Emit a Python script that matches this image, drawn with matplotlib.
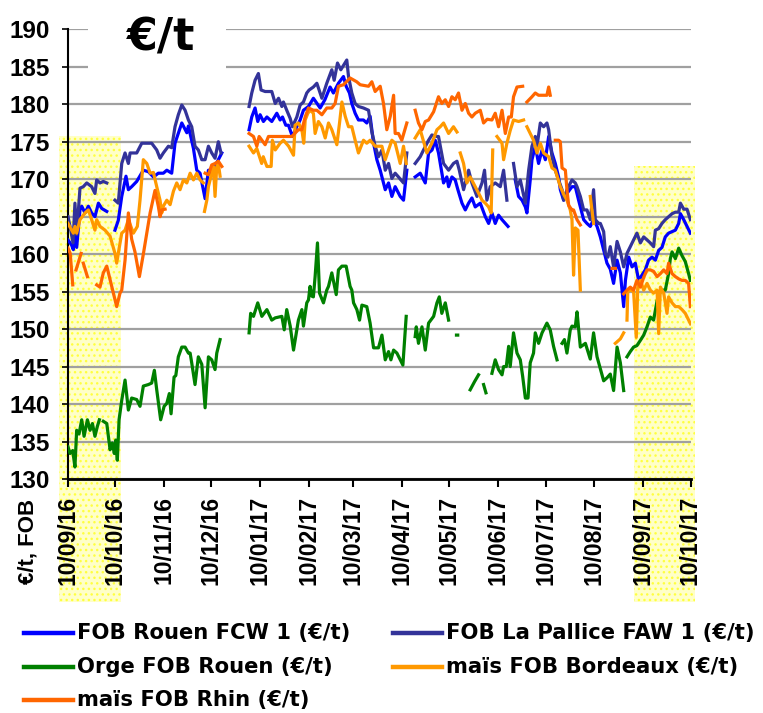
import numpy as np
import matplotlib
matplotlib.use("Agg")
import matplotlib.pyplot as plt
import matplotlib.dates as mdates
from matplotlib.patches import Rectangle
from matplotlib.lines import Line2D

plt.rcParams['font.family'] = ['Liberation Sans', 'DejaVu Sans']

N = None
START = "2016-09-10"   # day 0 of the day offsets below

# (day offset from START, €/t); None = gap in the series
rouen = [(0,161.9),(2.3,161.2),(3.4,160.6),(4.4,165.0),(5.5,160.9),(7.6,165.9),(8.7,166.4),(10.8,165.5),
         (12.9,166.4),(15.0,165.5),(17.1,165.0),(19.3,166.8),(21.4,166.1),(24.6,165.7),N,
         (29.8,163.2),(31.9,164.5),(34.1,167.7),(36.8,170.4),(38.3,168.6),(40.4,169.0),(43.6,169.7),
         (47.8,171.2),(51.0,171.0),(54.2,170.3),(57.3,170.8),(60.5,170.8),(62.7,171.2),(65.8,170.8),
         (67.9,174.8),(72.2,177.5),(75.4,176.2),(76.4,177.1),(79.6,174.1),(81.7,171.2),(83.8,170.8),
         (87.0,167.4),(89.1,171.2),(91.2,170.8),(93.3,171.7),(95.4,172.6),(97.6,173.5),N,
         (114.9,176.6),(116.6,178.3),(118.7,179.5),(120.4,177.7),(121.9,178.6),(124.0,177.7),(126.2,178.3),
         (129.3,177.7),(132.5,178.8),(134.6,177.9),(136.1,178.3),(138.2,177.2),(139.9,177.2),(142.4,175.7),
         (145.2,177.0),(147.3,177.9),(149.4,179.2),(152.6,179.7),(155.7,180.8),(160.0,179.5),(163.0,180.6),
         (166.3,182.3),(168.4,181.5),(171.6,182.8),(174.8,183.7),(176.5,182.4),(178.6,181.5),(180.1,180.1),
         (182.2,178.8),(184.3,177.9),(187.5,177.9),(189.6,177.5),(191.7,178.4),(193.9,174.8),(196.0,172.6),
         (198.1,171.2),(201.3,168.6),(203.4,169.5),(205.5,167.7),(207.6,169.0),(210.8,167.7),(212.9,167.2),
         (215.0,171.2),N,
         (220.3,170.3),(223.5,170.8),(226.7,169.5),(228.8,173.5),(231.0,173.9),(233.0,175.2),(235.1,173.5),
         (238.3,169.5),(240.4,170.3),(241.5,169.0),(243.6,170.3),(245.7,169.9),(247.4,168.6),(250.0,166.8),
         (252.1,165.9),(254.2,166.8),(256.3,167.5),(258.4,166.3),(261.6,166.8),(264.8,165.0),(266.9,164.1),
         (269.0,165.5),(271.1,164.1),(273.2,165.2),(275.4,164.6),(277.5,164.1),(279.2,163.7),N,
         (283.8,169.9),(285.9,167.7),(288.1,167.2),(290.2,166.3),(291.2,165.5),(293.3,169.9),(294.4,172.6),
         (296.5,174.4),(298.6,172.1),(300.8,173.9),(302.9,172.6),(305.0,175.7),(307.1,173.5),(309.2,172.1),
         (311.3,170.3),(312.4,168.6),(314.5,167.2),(316.6,168.1),(319.8,169.0),(321.9,169.0),(324.0,167.2),
         (327.2,164.6),(329.3,164.1),(331.4,163.7),(333.5,164.6),(335.7,163.7),(337.8,162.3),(342.0,158.8),
         (344.1,158.0),(346.2,156.1),(348.4,159.2),(350.5,157.5),(352.6,153.0),(353.7,156.5),(355.8,159.6),
         (357.9,158.3),(360.0,158.8),(362.1,156.5),(364.2,157.2),(366.3,157.9),(368.4,159.2),(370.6,159.6),
         (372.7,159.2),(374.8,160.5),(376.9,160.9),(379.0,162.3),(381.1,162.8),(383.3,163.0),(385.4,163.2),
         (387.5,164.1),(388.6,165.4),(390.7,164.6),(392.8,163.7),(394.9,162.8)]

pallice = [(0,165.0),(1.3,163.7),(3.2,161.5),(4.4,166.8),(5.5,162.6),(7.6,168.8),(9.7,169.0),(11.9,169.5),
           (15.0,169.0),(17.1,168.1),(18.2,169.9),(20.3,169.5),(22.4,169.7),(24.6,169.5),N,
           (29.8,167.2),(31.9,166.8),(34.1,172.1),(36.2,173.5),(38.3,172.1),(39.4,173.5),(43.6,173.5),
           (46.8,174.8),(53.1,174.8),(56.3,173.9),(58.4,172.8),(60.5,173.5),(63.7,174.4),(65.8,174.2),
           (67.9,177.0),(70.0,178.6),(72.2,179.9),(74.3,179.2),(76.4,177.9),(78.5,177.0),(80.6,174.4),
           (82.7,173.9),(84.9,172.6),(87.0,172.6),(89.1,174.4),(91.2,173.5),(93.3,172.8),(95.4,175.0),
           (97.1,173.5),N,
           (114.9,179.7),(116.6,181.5),(118.7,183.2),(120.8,184.1),(122.5,181.9),(125.1,181.7),(129.3,181.7),
           (131.5,180.1),(133.6,180.8),(135.7,179.7),(136.7,180.3),(138.8,179.2),(141.0,178.1),(142.4,177.0),
           (145.2,178.3),(147.3,179.9),(149.4,180.3),(151.5,181.5),(153.0,181.9),(155.7,182.3),(157.9,182.8),
           (161.1,180.8),(164.2,182.8),(167.4,184.6),(168.9,183.2),(171.0,185.5),(173.1,184.6),(176.9,185.9),
           (178.0,183.7),(180.1,181.5),(182.2,180.1),(184.3,179.7),(187.5,179.5),(190.7,179.2),(192.8,176.3),
           (194.9,174.4),(197.0,173.0),(199.2,173.9),(201.3,171.2),(203.4,172.1),(205.5,170.1),(207.6,170.8),
           (209.7,170.3),(212.9,169.5),(215.0,173.5),N,
           (220.3,172.1),(223.5,173.0),(225.6,173.9),(228.8,175.2),(230.9,175.9),(234.1,175.7),(235.1,175.7),
           (238.3,172.1),(241.5,171.2),(244.6,172.1),(246.8,172.4),(248.3,171.2),(251.0,168.6),(254.2,171.2),
           (256.3,169.5),(259.5,167.7),(262.7,169.5),(264.3,171.2),(265.8,167.2),(267.9,169.0),(271.1,169.5),
           (274.3,169.0),(276.4,171.2),(278.5,167.2),N,
           (282.7,172.1),(284.9,169.0),(287.0,169.9),(290.2,166.8),(292.3,171.2),(294.4,174.4),(296.5,175.7),
           (297.6,174.4),(299.7,177.5),(301.8,177.0),(303.9,177.5),(305.0,176.6),(307.1,173.0),(309.2,171.2),
           (311.3,169.9),(313.5,168.6),(314.5,167.2),(316.6,168.6),(319.8,169.9),(321.9,169.5),(323.0,169.0),
           (325.1,167.7),(327.2,165.9),(329.3,165.9),(331.4,164.6),(333.5,168.6),(334.6,164.6),(336.7,164.1),
           (337.8,164.1),(339.9,163.0),(341.0,160.1),(342.6,159.6),(344.1,161.0),(346.2,158.3),(348.4,161.7),
           (350.5,160.3),(352.6,158.3),(353.7,159.2),(354.7,160.1),(356.8,161.0),(358.9,161.9),(361.0,162.8),
           (363.2,161.5),(365.3,162.3),(367.4,161.9),(369.5,161.5),(371.6,161.0),(372.7,163.2),(374.8,163.4),
           (376.9,164.1),(379.0,164.6),(381.1,165.0),(383.3,165.4),(385.4,165.6),(387.5,165.6),(388.6,166.8),
           (390.7,166.0),(392.8,166.0),(394.9,164.6)]

orge = [(0,134.3),(1.3,133.4),(3.0,133.8),(4.4,131.6),(5.5,136.5),(7.0,136.0),(8.7,137.9),(10.2,135.7),
        (12.3,137.9),(14.0,136.5),(15.5,137.4),(17.1,135.7),(18.6,137.0),(19.9,137.9),N,
        (22.4,137.7),(24.6,137.4),(26.7,133.9),(28.1,134.8),(29.4,133.4),(30.3,135.2),(31.3,132.5),(32.4,137.9),
        (34.1,140.5),(36.2,143.2),(38.3,139.2),(40.4,140.8),(43.6,140.6),(45.7,139.7),(47.8,142.4),(51.0,142.6),
        (53.1,142.8),(54.8,144.5),(56.3,141.9),(58.8,137.9),(61.0,139.7),(62.7,140.1),(64.3,141.4),(65.4,138.7),
        (67.3,143.6),(68.4,143.8),(70.0,146.3),(72.2,147.6),(74.3,147.6),(76.4,146.8),(77.5,146.8),(78.5,145.5),
        (80.6,142.6),(82.7,146.3),(84.9,145.3),(87.0,139.5),(89.1,146.3),(91.2,145.9),(93.3,144.6),(94.4,146.8),
        (96.5,148.6),N,
        (114.9,149.5),(115.9,152.1),(117.7,151.7),(120.4,153.5),(123.0,151.7),(126.2,152.6),(129.3,151.2),
        (131.5,151.5),(135.7,151.7),(137.2,149.9),(138.8,152.6),(141.0,150.4),(143.1,147.2),(146.2,151.2),
        (148.4,152.6),(149.4,150.4),(151.5,153.5),(152.6,153.9),(153.6,155.7),(154.7,154.4),(155.7,154.3),
        (156.8,157.0),(158.3,161.5),(159.6,154.8),(162.1,153.5),(164.2,155.2),(165.3,155.7),(167.4,157.5),
        (170.2,154.6),(171.6,157.9),(173.8,158.4),(176.5,158.4),(179.0,155.7),(180.1,155.2),(181.2,153.5),
        (183.3,152.6),(185.0,151.2),(186.5,153.2),(189.6,153.0),(191.7,150.8),(193.9,147.5),(197.0,147.5),
        (199.2,149.2),(201.3,145.9),(203.4,147.0),(204.9,145.9),(206.6,147.2),(208.7,146.8),(212.5,145.2),
        (214.6,151.7),N,
        (220.3,149.0),(221.0,150.3),(222.4,148.1),(224.6,150.3),(226.7,147.2),(228.8,150.8),(232.0,151.7),
        (234.1,153.5),(235.6,154.3),(237.2,152.1),(239.4,153.5),(241.5,151.2),N,
        (246.5,149.2),(247.3,149.2),N,
        (255.2,141.9),(258.0,143.0),(260.5,143.9),N,
        (263.7,142.6),(265.2,141.5),N,
        (269.0,144.1),(271.1,145.9),(273.2,144.6),(275.4,143.9),(276.4,145.0),(278.1,145.0),(279.6,147.7),
        (280.6,145.0),(282.7,149.5),(284.9,146.8),(287.0,145.9),(288.5,143.7),(290.2,140.8),(291.9,140.8),
        (293.3,145.5),(295.4,146.8),(296.5,149.5),(298.6,148.1),(300.8,149.5),(303.9,150.8),(306.0,149.9),
        (308.1,147.7),(310.3,145.9),N,
        (313.5,148.1),(315.0,148.6),(316.6,146.8),(318.7,149.9),(319.8,150.4),(321.9,150.3),(323.0,152.3),
        (325.1,147.6),(328.3,148.1),(331.4,146.0),(333.5,149.5),(335.7,146.3),(337.8,144.7),(339.9,143.1),
        (342.0,143.5),(344.1,144.0),(346.2,141.8),(348.4,147.6),(350.5,145.5),(352.6,141.8),N,
        (354.7,146.3),(356.8,147.0),(358.9,147.6),(361.0,147.8),(363.2,148.5),(365.3,149.2),(367.4,150.3),
        (369.5,151.6),(371.6,151.2),(373.8,153.8),(375.9,155.0),(376.9,155.2),(379.0,155.2),(381.1,157.4),
        (382.2,159.4),(383.3,160.3),(385.4,159.4),(387.5,160.8),(389.6,159.8),(391.7,159.0),(393.8,157.4),
        (394.9,156.5)]

bordeaux = [(0,164.1),(2.3,163.2),(3.4,162.8),(4.4,163.7),(5.5,162.8),(7.6,164.6),(10.8,165.5),(12.9,165.9),
            (15.0,164.6),(17.1,163.2),(18.2,164.6),(20.3,163.7),(23.5,163.2),(26.7,162.4),(29.8,160.1),
            (30.9,158.8),(31.9,160.1),(34.1,162.8),(36.2,163.2),(38.3,164.6),(41.5,162.8),(44.0,163.7),
            (45.7,167.2),(47.8,172.6),(50.0,172.1),(52.1,170.8),(54.2,170.9),(56.3,169.0),(58.4,167.2),
            (59.5,165.5),(60.5,166.4),(62.7,167.2),(64.8,166.6),(66.9,168.4),(69.0,169.5),(71.1,168.6),
            (73.2,169.9),(75.4,169.5),(77.5,170.8),(79.6,169.9),(81.7,170.8),(83.8,169.9),(85.9,169.5),N,
            (86.6,165.7),(88.1,167.2),(89.1,169.0),(91.2,170.8),(92.3,171.7),(93.3,167.7),(94.4,171.7),
            (95.4,172.1),(96.5,170.4),N,
            (114.9,174.4),(117.7,173.5),(119.8,174.1),(122.9,172.1),(123.9,173.0),(126.2,171.7),(128.9,171.7),
            (129.7,175.2),(131.5,173.9),(134.6,174.8),(136.7,175.2),(140.0,174.4),(143.1,173.2),(144.1,177.2),
            (146.2,177.5),(148.4,176.6),(149.6,174.8),(150.5,177.9),(152.2,178.8),(153.7,179.2),(155.7,178.8),
            (156.8,176.1),(158.9,177.7),(161.1,177.0),(163.2,175.5),(165.3,177.5),(167.4,176.6),(170.6,174.6),
            (172.3,177.5),(173.8,180.3),(175.9,178.4),(178.0,177.0),(180.1,177.0),(182.2,175.2),(184.3,173.5),
            (187.5,175.2),(189.6,174.8),(191.7,175.2),(194.9,174.4),(199.2,174.4),(201.3,172.6),(205.5,175.2),
            (207.6,174.8),(210.8,172.1),(212.9,174.4),(214.6,172.1),N,
            (220.3,175.5),(223.5,176.6),(227.7,173.5),(230.9,174.8),(234.1,176.6),(236.2,177.0),(238.3,177.5),
            (241.5,176.1),(244.6,177.0),(246.8,176.3),N,
            (248.9,173.5),(251.0,172.1),(253.1,169.5),(255.2,170.3),(258.4,169.0),(261.6,167.7),(262.7,167.2),
            (264.8,166.8),(266.9,166.3),(268.5,165.5),(269.5,173.9),N,
            (272.2,175.7),(275.4,174.8),(276.4,172.6),(278.5,174.8),(280.6,176.5),(282.7,177.9),(285.9,177.7),
            (289.1,177.9),N,
            (291.2,177.0),(293.3,176.1),(295.4,175.2),(297.6,173.5),(299.7,174.8),(301.8,173.5),(305.0,173.0),
            (307.1,171.5),(309.2,171.2),(312.4,169.0),(314.5,168.0),(316.6,167.2),(318.7,165.9),(319.8,164.6),
            (320.8,157.2),(321.9,163.5),(323.6,163.2),(325.1,155.2),N,
            (331.4,167.7),(333.5,164.1),N,
            (347.3,148.1),(350.5,148.7),(352.6,149.5),N,
            (354.7,151.2),(355.2,155.0),(356.8,155.2),(358.9,155.0),(360.6,148.9),(361.5,155.5),(363.2,156.5),
            (365.3,155.2),(367.4,156.1),(369.5,155.2),(371.6,154.8),(373.8,155.2),(374.8,149.4),(375.9,155.6),
            (378.0,154.8),(380.1,152.1),(381.1,154.3),(383.3,153.5),(385.4,153.0),(387.5,153.0),(389.6,152.6),
            (391.7,152.1),(393.8,151.2),(395.0,150.7)]

rhin = [(0,160.8),(1.4,160.1),(3.0,155.9),N,
        (5.1,157.9),(8.3,160.1),N,
        (9.7,158.8),(12.3,157.0),N,
        (18.2,155.9),(20.3,155.6),(22.4,157.5),(24.6,158.4),(26.7,156.6),(29.8,153.9),(30.9,153.0),(33.0,154.8),
        (34.1,155.2),(36.2,159.2),(38.3,165.5),(40.4,162.0),(42.5,160.3),(45.3,157.0),(47.8,160.0),(50.0,162.8),
        (52.1,165.5),(54.2,167.5),(55.2,168.5),(57.3,166.4),(58.4,165.0),(59.5,165.9),(61.6,166.0),N,
        (87.0,170.8),(89.1,170.6),(91.2,171.9),(93.3,172.1),(95.4,172.4),(97.6,171.7),N,
        (114.9,176.1),(117.7,175.7),(119.8,174.4),(121.3,175.7),(123.0,175.2),(125.1,174.6),(127.2,175.7),
        (131.5,175.7),(135.7,175.7),(142.0,175.7),(146.2,176.6),(148.4,176.6),(150.5,178.3),(152.6,179.5),
        (155.7,179.2),(157.9,179.2),(161.1,178.6),(164.2,179.5),(167.4,179.5),(169.5,180.1),(171.6,182.4),
        (174.8,182.6),(179.0,183.5),(183.2,183.0),(185.4,182.6),(190.7,182.4),(192.8,183.0),(194.9,181.7),
        (198.1,182.4),(200.2,180.1),(202.3,176.6),(204.5,178.4),(206.6,181.2),(207.6,176.1),(209.7,176.1),
        (211.8,175.2),(215.0,177.5),N,
        (220.3,179.2),(222.4,177.5),(224.6,176.6),(226.7,177.7),(228.8,177.9),(232.0,179.0),(235.1,181.0),
        (237.2,180.1),(239.4,180.6),(241.5,179.7),(243.6,181.0),(245.7,180.6),(247.8,181.5),(250.0,179.2),
        (252.1,180.1),(254.2,178.8),(256.3,178.3),(258.4,178.8),(261.6,179.2),(263.7,177.5),(266.0,178.0),
        (269.0,177.9),(271.1,178.8),(273.2,177.0),(275.4,179.2),(277.5,176.1),(279.6,178.3),(281.3,178.3),
        (282.7,181.0),(284.9,182.3),(288.5,182.4),N,
        (291.2,180.3),(294.4,181.0),(296.5,181.5),(298.6,181.2),(303.9,181.2),(305.0,182.3),(306.0,181.2),N,
        (309.2,175.2),(311.3,175.2),(312.4,175.0),(313.5,171.5),(315.6,171.2),(316.6,168.6),(317.7,166.5),
        (319.8,165.9),(320.8,165.9),(323.0,164.6),(325.1,163.9),N,
        (345.2,158.1),(347.3,158.1),N,
        (352.6,154.7),(354.7,155.2),(356.8,155.6),(358.9,155.2),(361.0,156.5),(363.2,155.6),(365.3,156.9),
        (367.4,157.9),(369.5,157.9),(371.6,157.7),(373.8,157.0),(375.9,157.4),(378.0,157.9),(380.1,157.4),
        (381.1,158.8),(383.3,157.4),(385.4,157.0),(387.5,156.7),(389.6,156.5),(391.7,156.5),(393.8,156.1),
        (394.9,153.0)]

series_names = ["FOB Rouen FCW 1 (€/t)", "FOB La Pallice FAW 1 (€/t)", "Orge FOB Rouen (€/t)",
                "maïs FOB Bordeaux (€/t)", "maïs FOB Rhin (€/t)"]
series_colors = ["#0000FF", "#333399", "#008000", "#FF9900", "#FF6600"]
series_data = [rouen, pallice, orge, bordeaux, rhin]

tick_dates = ["2016-09-10", "2016-10-10", "2016-11-10", "2016-12-10", "2017-01-10", "2017-02-10",
              "2017-03-10", "2017-04-10", "2017-05-10", "2017-06-10", "2017-07-10", "2017-08-10",
              "2017-09-10", "2017-10-10"]
tick_labels = ["10/09/16", "10/10/16", "10/11/16", "10/12/16", "10/01/17", "10/02/17", "10/03/17",
               "10/04/17", "10/05/17", "10/06/17", "10/07/17", "10/08/17", "10/09/17", "10/10/17"]
y_ticks = list(range(130, 191, 5))

W, H = 763, 713
fig = plt.figure(figsize=(W / 100, H / 100), dpi=100)

def fx(px):
    return px / W

def fy(py):
    return 1 - py / H

ax = fig.add_axes([fx(68), fy(479), fx(690.5) - fx(68), fy(29.3) - fy(479)])
ax.set_facecolor("none")

base = mdates.date2num(np.datetime64(START))

def to_xy(data):
    xs, ys = [], []
    for p in data:
        if p is None:
            xs.append(np.nan); ys.append(np.nan)
        else:
            xs.append(base + p[0]); ys.append(p[1])
    return np.array(xs), np.array(ys)

for data, col in zip(series_data, series_colors):
    xs, ys = to_xy(data)
    ax.plot(xs, ys, color=col, lw=2.3, solid_joinstyle="round", zorder=3)

ax.set_ylim(130, 190)
ax.set_xlim(base, mdates.date2num(np.datetime64(tick_dates[-1])))
ax.set_yticks(y_ticks)
ax.set_yticklabels([str(v) for v in y_ticks], fontsize=17.5, fontweight="bold")
ax.set_xticks([mdates.date2num(np.datetime64(d)) for d in tick_dates])
ax.set_xticklabels(tick_labels, rotation=90, fontsize=16.5, fontweight="bold", va="top", ha="center")
ax.tick_params(axis="y", length=4, width=1.2, pad=9, colors="black")
ax.tick_params(axis="x", length=6, width=1.5, pad=6)
ax.yaxis.grid(True, color="#A0A0A0", lw=1.6)
ax.set_axisbelow(True)
for s in ["top", "right"]:
    ax.spines[s].set_visible(False)
ax.spines["left"].set_linewidth(1.5)
ax.spines["bottom"].set_linewidth(2.0)

# yellow dotted highlight zones
for x0, x1, ytop in [(59, 121, 136), (634, 695, 166)]:
    fig.add_artist(Rectangle((fx(x0), fy(602)), fx(x1) - fx(x0), fy(ytop) - fy(602),
                             transform=fig.transFigure, facecolor="#FFFFC8", edgecolor="#FFFF40",
                             hatch="...", lw=0, zorder=-1))

# title box
fig.add_artist(Rectangle((fx(88), fy(76)), fx(226) - fx(88), fy(8) - fy(76),
                         transform=fig.transFigure, facecolor="white", edgecolor="none", zorder=1))
fig.text(fx(161.5), fy(50), "€/t", ha="center", va="baseline", fontsize=32, fontweight="bold",
         family="DejaVu Sans", zorder=2)

fig.text(fx(28), fy(541), "€/t, FOB", rotation=90, ha="center", va="center", fontsize=16,
         fontweight="bold")

# legend
leg_pos = [(24, 633), (393, 633), (24, 667), (393, 667), (24, 700)]
for (lx, ly), name, col in zip(leg_pos, series_names, series_colors):
    fig.add_artist(Line2D([fx(lx), fx(lx + 49)], [fy(ly), fy(ly)], transform=fig.transFigure,
                          color=col, lw=3.2))
    fig.text(fx(lx + 53), fy(ly), name, ha="left", va="center", fontsize=15.2, fontweight="bold",
             family="DejaVu Sans")

fig.savefig("out.png", dpi=100)
